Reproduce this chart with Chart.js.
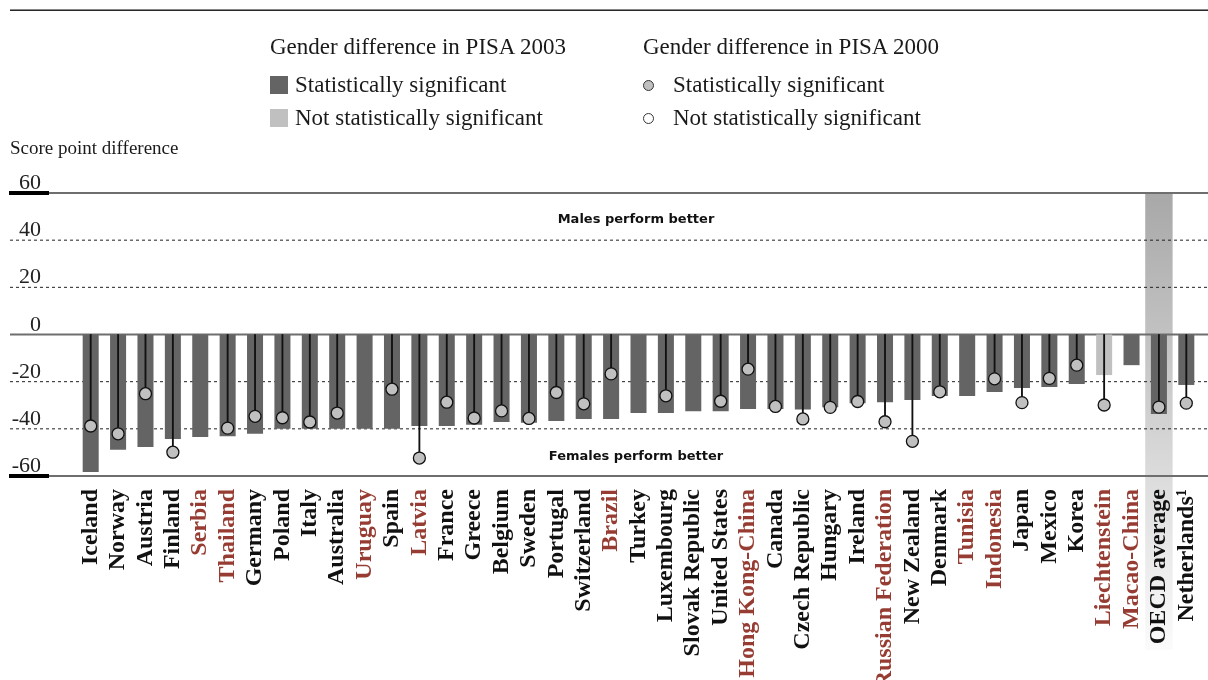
<!DOCTYPE html>
<html><head><meta charset="utf-8">
<script src="https://cdn.jsdelivr.net/npm/chart.js@4.4.1/dist/chart.umd.min.js"></script>
<style>
html,body{margin:0;padding:0;background:#fff;}
#wrap{position:relative;width:1208px;height:680px;overflow:hidden;background:#fff;}
canvas{position:absolute;left:0;top:0;}
.t{position:absolute;font-family:"Liberation Serif",serif;color:#1a1a1a;white-space:nowrap;line-height:23px;font-size:23px;}
.sq{position:absolute;width:18px;height:18px;}
.dot{position:absolute;width:11px;height:11px;border-radius:50%;border:1.2px solid #333;box-sizing:border-box;}
</style></head><body>
<div id="wrap">
<canvas id="c" width="1208" height="680"></canvas>
<div class="t" style="left:270px;top:35px">Gender difference in PISA 2003</div>
<div class="sq" style="left:270px;top:76px;background:#646464"></div>
<div class="t" style="left:295px;top:73px">Statistically significant</div>
<div class="sq" style="left:270px;top:109px;background:#c0c0c0"></div>
<div class="t" style="left:295px;top:106px">Not statistically significant</div>
<div class="t" style="left:643px;top:35px">Gender difference in PISA 2000</div>
<div class="dot" style="left:643px;top:80px;background:#c0c0c0"></div>
<div class="t" style="left:673px;top:73px">Statistically significant</div>
<div class="dot" style="left:643px;top:113px;background:#fff"></div>
<div class="t" style="left:673px;top:106px">Not statistically significant</div>
<div class="t" style="left:10px;top:138px;font-size:19px;line-height:19px">Score point difference</div>
</div>
<script>
const categories = ["Iceland","Norway","Austria","Finland","Serbia","Thailand","Germany","Poland","Italy","Australia","Uruguay","Spain","Latvia","France","Greece","Belgium","Sweden","Portugal","Switzerland","Brazil","Turkey","Luxembourg","Slovak Republic","United States","Hong Kong-China","Canada","Czech Republic","Hungary","Ireland","Russian Federation","New Zealand","Denmark","Tunisia","Indonesia","Japan","Mexico","Korea","Liechtenstein","Macao-China","OECD average","Netherlands\u00B9"];
const diff2003 = [-58.3,-48.9,-47.7,-44.3,-43.5,-43.1,-42.1,-40.0,-40.0,-40.0,-40.0,-40.0,-38.8,-38.8,-38.3,-37.1,-37.4,-36.7,-35.8,-35.8,-33.3,-33.3,-32.5,-32.5,-31.6,-31.6,-31.8,-30.8,-29.1,-28.7,-27.8,-26.1,-26.1,-24.4,-22.7,-22.3,-21.0,-17.2,-13.0,-33.7,-21.4];
const diff2000 = [-38.8,-42.1,-25.1,-49.9,null,-39.7,-34.7,-35.3,-37.1,-33.3,null,-23.2,-52.4,-28.7,-35.4,-32.4,-35.6,-24.6,-29.4,-16.7,null,-26.0,null,-28.3,-14.7,-30.5,-35.8,-30.9,-28.4,-37.0,-45.3,-24.3,null,-18.8,-28.9,-18.6,-13.0,-29.9,null,-30.8,-29.1];
const sig2003 = categories.map(c => c !== "Liechtenstein");
const sig2000 = categories.map(() => true);
const partner = ["Serbia","Thailand","Uruguay","Latvia","Brazil","Hong Kong-China","Russian Federation","Tunisia","Indonesia","Liechtenstein","Macao-China"];
const yTicks = [60,40,20,0,-20,-40,-60];
const highlight = "OECD average";

const stems = diff2000.map(v => v === null ? null : [0, v]);

const decor = {
  id: 'decor',
  beforeDraw(chart) {
    const {ctx, chartArea: a, scales: {x}} = chart;
    const i = categories.indexOf(highlight);
    const cx = x.getPixelForValue(i);
    const half = (x.getPixelForValue(1) - x.getPixelForValue(0)) / 2;
    const g = ctx.createLinearGradient(0, a.top, 0, 650);
    g.addColorStop(0, '#a8a8a8');
    g.addColorStop(1, '#fbfbfb');
    ctx.save();
    ctx.fillStyle = g;
    ctx.fillRect(cx - half, a.top, half * 2, 650 - a.top);
    ctx.fillStyle = '#111';
    ctx.fillRect(10, 9.5, 1198, 1.4);
    ctx.restore();
  },
  beforeDatasetsDraw(chart) {
    const {ctx, scales: {y}} = chart;
    ctx.save();
    yTicks.forEach(v => {
      const py = y.getPixelForValue(v);
      const solid = (v === 60 || v === 0 || v === -60);
      ctx.beginPath();
      if (solid) { ctx.strokeStyle = '#6e6e6e'; ctx.lineWidth = 2; ctx.setLineDash([]); }
      else { ctx.strokeStyle = '#222'; ctx.lineWidth = 1; ctx.setLineDash([3, 3]); }
      ctx.moveTo(10, py); ctx.lineTo(1208, py); ctx.stroke();
      ctx.setLineDash([]);
      if (v === 60 || v === -60) { ctx.fillStyle = '#000'; ctx.fillRect(9, py - 2, 40, 4); }
      ctx.fillStyle = '#222';
      ctx.font = '22px "Liberation Serif"';
      ctx.textAlign = 'right';
      ctx.textBaseline = 'alphabetic';
      ctx.fillText(String(v), 41, py - 4);
    });
    ctx.restore();
  },
  afterDatasetsDraw(chart) {
    const {ctx, scales: {y}} = chart;
    ctx.save();
    ctx.fillStyle = '#111';
    ctx.font = 'bold 13px "DejaVu Sans"';
    ctx.textAlign = 'center';
    ctx.textBaseline = 'middle';
    ctx.fillText('Males perform better', 636, y.getPixelForValue(48.6));
    ctx.fillText('Females perform better', 636, y.getPixelForValue(-51.6));
    ctx.restore();
  }
};

new Chart(document.getElementById('c'), {
  type: 'bar',
  data: {
    labels: categories,
    datasets: [
      {
        type: 'line',
        label: 'PISA 2000',
        data: diff2000,
        showLine: false,
        pointRadius: 6,
        pointHoverRadius: 6,
        pointBackgroundColor: diff2000.map((v, i) => sig2000[i] ? '#c0c0c0' : '#ffffff'),
        pointBorderColor: '#111',
        pointBorderWidth: 1.3,
        order: 1
      },
      {
        type: 'bar',
        label: 'stem',
        data: stems,
        backgroundColor: '#111',
        barThickness: 1.2,
        grouped: false,
        borderWidth: 0,
        order: 2
      },
      {
        type: 'bar',
        label: 'PISA 2003',
        data: diff2003,
        backgroundColor: diff2003.map((v, i) => sig2003[i] ? '#646464' : '#c0c0c0'),
        barPercentage: 0.585,
        categoryPercentage: 1.0,
        grouped: false,
        borderWidth: 0,
        order: 3
      }
    ]
  },
  options: {
    responsive: false,
    animation: false,
    events: [],
    layout: { padding: { top: 193, left: 77, right: 8, bottom: 0 } },
    plugins: { legend: { display: false }, tooltip: { enabled: false } },
    scales: {
      y: { display: false, min: -60, max: 60 },
      x: {
        offset: true,
        grid: { display: false, drawTicks: false },
        border: { display: false },
        afterFit: s => { s.height = 204; s.paddingLeft = 0; s.paddingRight = 0; },
        ticks: {
          autoSkip: false,
          minRotation: 90,
          maxRotation: 90,
          padding: 13,
          font: { family: '"Liberation Serif"', size: 24, weight: 'bold' },
          color: c => partner.includes(categories[c.index]) ? '#963c32' : '#111'
        }
      }
    }
  },
  plugins: [decor]
});
</script>
</body></html>
